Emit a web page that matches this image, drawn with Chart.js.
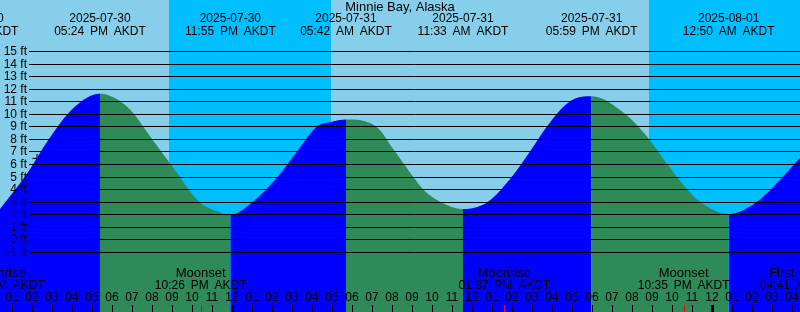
<!DOCTYPE html>
<html>
<head>
<meta charset="utf-8">
<script src="https://cdn.jsdelivr.net/npm/chart.js@4/dist/chart.umd.min.js"></script>
<style>
    html, body { margin: 0; padding: 0; background: #87ceeb; }
    #wrap { width: 800px; height: 312px; }
</style>
</head>
<body>
<div id="wrap"><canvas id="tideChart" width="800" height="312"></canvas></div>
<script>
// Tide height (ft), hours counted from 2025-07-30 00:00 AKDT
const tideHours = [12.4, 13.65, 14.85, 16.1, 17.4,
    18.8, 20.0, 21.2, 22.35, 23.15, 23.917,
    25.05, 26.3, 27.25, 28.25, 28.95, 29.7,
    31.2, 32.15, 33.05, 33.55, 34.4, 35.55,
    36.8, 38.0, 38.9, 39.75, 40.9, 41.983,
    43.65, 44.85, 45.75, 46.75, 47.4, 48.833,
    50.25, 51.55, 52.4];
const tideFeet = [2.42, 5, 8, 10.5, 11.6,
    10.5, 8, 5.4, 3, 2.3, 1.95,
    3, 5, 7, 9, 9.35, 9.55,
    9, 7, 5, 4, 3, 2.42,
    3, 5, 7, 9, 11, 11.4,
    10, 8, 6, 4, 3, 2.02,
    3, 5, 6.5];

// high / low tide labels along the top
const extremeHours = [11.05, 17.4, 23.917, 29.7, 35.55, 41.983, 48.833];
const extremeDates = ['2025-07-30', '2025-07-30', '2025-07-30', '2025-07-31', '2025-07-31', '2025-07-31', '2025-08-01'];
const extremeTimes = ['11:03 AM AKDT', '05:24 PM AKDT', '11:55 PM AKDT', '05:42 AM AKDT', '11:33 AM AKDT', '05:59 PM AKDT', '12:50 AM AKDT'];

// moon events along the bottom
const moonHours = [12.35, 22.433, 37.617, 46.583, 52.683];
const moonNames = ['Moonrise', 'Moonset', 'Moonrise', 'Moonset', 'First Quarter'];
const moonTimes = ['12:21 PM AKDT', '10:26 PM AKDT', '01:37 PM AKDT', '10:35 PM AKDT', '04:41 AM AKDT'];

// night (sunset -> sunrise)
const nightStart = [20.85, 44.85];
const nightEnd = [28.95, 53.0];

// current time marker
const nowHour = [14.25];
const nowFeet = [6.45];

const feetLevels = [-1, 0, 1, 2, 3, 4, 5, 6, 7, 8, 9, 10, 11, 12, 13, 14, 15];
const firstHourTick = 13;
const hourLabels = ['01', '02', '03', '04', '05', '06', '07', '08', '09', '10', '11', '12',
    '01', '02', '03', '04', '05', '06', '07', '08', '09', '10', '11', '12',
    '01', '02', '03', '04', '05', '06', '07', '08', '09', '10', '11', '12',
    '01', '02', '03', '04'];

const title = 'Minnie Bay, Alaska';
const FAMILY = '"Liberation Sans", Arial, sans-serif';

function setText(ctx, size, wordGap) {
    ctx.font = size + 'px ' + FAMILY;
    ctx.wordSpacing = wordGap + 'px';
}

const tideDecor = {
    id: 'tideDecor',
    beforeDraw(chart) {
        const { ctx, scales: { x } } = chart;
        ctx.save();
        ctx.fillStyle = '#87ceeb';
        ctx.fillRect(0, 0, chart.width, chart.height);
        ctx.fillStyle = '#00bfff';
        nightStart.forEach((s, i) => {
            const x0 = Math.round(x.getPixelForValue(s));
            const x1 = Math.round(x.getPixelForValue(nightEnd[i]));
            ctx.fillRect(x0, 0, x1 - x0, chart.height);
        });
        ctx.restore();
    },
    afterDatasetsDraw(chart) {
        const { ctx, scales: { x, y } } = chart;
        ctx.save();
        ctx.fillStyle = '#000';
        ctx.strokeStyle = '#000';
        ctx.lineWidth = 1;
        ctx.textBaseline = 'middle';

        // depth lines with labels
        setText(ctx, 12, 0);
        feetLevels.forEach(v => {
            const py = Math.round(y.getPixelForValue(v)) + 0.5;
            ctx.beginPath();
            ctx.moveTo(29, py);
            ctx.lineTo(chart.width, py);
            ctx.stroke();
            ctx.textAlign = 'right';
            ctx.fillText(v + ' ft', 27, py);
        });

        ctx.textAlign = 'center';
        setText(ctx, 13, 0);
        ctx.fillText(title, 400, 7);

        extremeHours.forEach((h, i) => {
            const px = x.getPixelForValue(h);
            setText(ctx, 12, 0);
            ctx.fillText(extremeDates[i], px, 19);
            setText(ctx, 12, 2.5);
            ctx.fillText(extremeTimes[i], px, 32);
        });

        moonHours.forEach((h, i) => {
            const px = x.getPixelForValue(h);
            ctx.fillStyle = '#000';
            setText(ctx, 13, 0);
            ctx.fillText(moonNames[i], px, 273);
            setText(ctx, 12, 2.5);
            ctx.fillText(moonTimes[i], px, 286);
            ctx.fillStyle = '#ff0000';
            ctx.fillRect(Math.round(px), 305, 1, 7);
        });

        ctx.fillStyle = '#000';
        setText(ctx, 12, 0);
        hourLabels.forEach((lab, i) => {
            const px = Math.round(x.getPixelForValue(firstHourTick + i));
            ctx.fillText(lab, px, 298);
            if ((firstHourTick + i) % 24 === 0) {
                ctx.fillRect(px - 1, 305, 3, 7);
            } else {
                ctx.fillRect(px, 305, 1, 7);
            }
        });
        ctx.restore();
    }
};

const tidePoints = tideHours.map((h, i) => ({ x: h, y: tideFeet[i] }));
const nowPoints = nowHour.map((h, i) => ({ x: h, y: nowFeet[i] }));

const ctx = document.getElementById('tideChart').getContext('2d');
new Chart(ctx, {
    type: 'line',
    data: {
        datasets: [{
            label: 'Tide',
            data: tidePoints,
            fill: 'start',
            borderWidth: 0,
            borderColor: 'rgba(0,0,0,0)',
            backgroundColor: '#0000ff',
            cubicInterpolationMode: 'monotone',
            pointRadius: 0,
            segment: {
                backgroundColor: c => c.p1.parsed.y >= c.p0.parsed.y ? '#0000ff' : '#2e8b57'
            }
        }, {
            label: 'Now',
            data: nowPoints,
            showLine: false,
            fill: false,
            pointStyle: 'cross',
            pointRadius: 4.5,
            pointBorderWidth: 1,
            pointBorderColor: '#000',
            pointBackgroundColor: '#000'
        }]
    },
    options: {
        responsive: false,
        animation: false,
        layout: { padding: 0, autoPadding: false },
        plugins: {
            legend: { display: false },
            tooltip: { enabled: false }
        },
        scales: {
            x: { type: 'linear', display: false, min: 12.4, max: 52.4 },
            y: { display: false, min: -5.79, max: 19.07 }
        }
    },
    plugins: [tideDecor]
});
</script>
</body>
</html>
